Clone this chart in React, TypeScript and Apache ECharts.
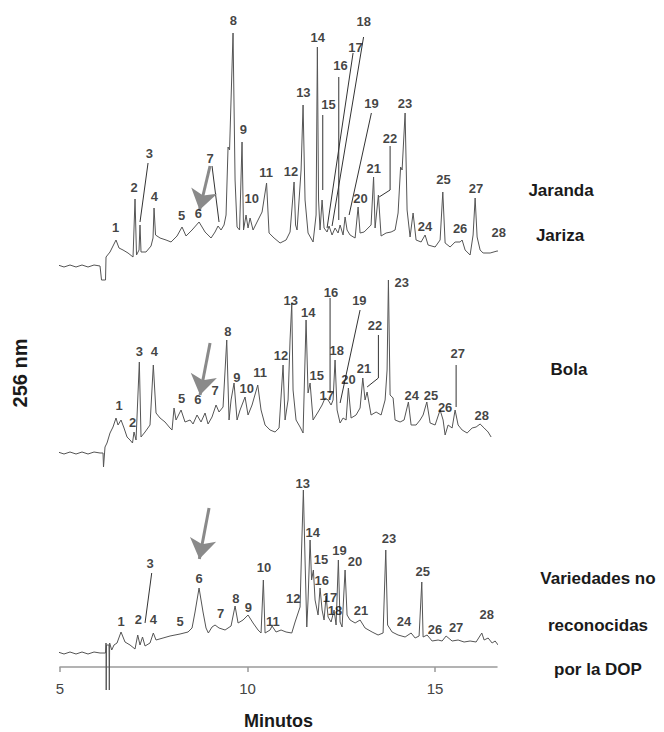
import React, { useEffect, useRef } from "react";
import * as echarts from "echarts";

// Chromatograms: [minutes, signal above pre-injection baseline]
const jarandaTrace: number[][] = [
  [4.787,0],[4.947,1],[5.107,-1],[5.267,1],[5.427,-1],[5.587,1],[5.747,-1],[5.907,1],[6.067,0],
  [6.107,-14],[6.213,-14],[6.227,9],[6.333,14],[6.413,20],[6.493,26],[6.573,18],[6.68,16],[6.813,13],[6.947,9],[7.0,67],[7.04,11],[7.107,16],[7.133,41],[7.16,14],[7.293,14],[7.427,20],[7.48,28],[7.507,58],[7.547,31],[7.667,28],[7.827,26],[7.96,24],[8.12,30],[8.253,39],[8.36,30],[8.52,36],[8.707,44],[8.867,34],[9.027,28],[9.133,34],[9.213,40],[9.293,36],[9.373,41],[9.427,51],[9.48,119],[9.52,116],[9.613,233],[9.667,86],[9.72,39],[9.787,36],[9.853,124],[9.893,36],[9.96,51],[10.013,38],[10.067,48],[10.147,36],[10.28,46],[10.387,54],[10.507,83],[10.573,33],[10.707,28],[10.867,23],[11.027,26],[11.133,34],[11.24,84],[11.28,41],[11.32,36],[11.427,96],[11.48,161],[11.533,66],[11.613,33],[11.747,24],[11.827,51],[11.861,219],[11.893,66],[11.933,36],[11.987,66],[12.04,38],[12.12,34],[12.173,40],[12.253,31],[12.333,38],[12.413,33],[12.467,41],[12.547,31],[12.6,49],[12.653,36],[12.733,31],[12.867,28],[12.947,59],[13.0,33],[13.107,34],[13.213,38],[13.293,41],[13.36,89],[13.4,38],[13.488,71],[13.56,30],[13.693,33],[13.827,34],[13.933,36],[14.013,53],[14.08,99],[14.12,96],[14.2,153],[14.253,56],[14.333,29],[14.413,53],[14.493,26],[14.627,24],[14.733,31],[14.813,21],[15.0,19],[15.133,26],[15.205,74],[15.267,23],[15.4,19],[15.533,24],[15.667,24],[15.72,26],[15.8,16],[15.933,11],[16.013,31],[16.067,68],[16.12,29],[16.2,16],[16.28,13],[16.467,13],[16.653,15],[16.813,14],[16.92,13],[17.0,10]
];

const bolaTrace: number[][] = [
  [4.787,0],[4.947,1],[5.107,-1],[5.267,1],[5.427,-1],[5.587,1],[5.747,-1],[5.907,1],[6.067,0],[6.147,0],[6.16,-14],[6.173,-14],[6.2,6],[6.253,10],[6.333,20],[6.413,26],[6.493,35],[6.547,28],[6.627,33],[6.707,25],[6.787,16],[6.867,13],[6.933,10],[6.973,21],[7.027,13],[7.115,91],[7.16,16],[7.267,21],[7.4,28],[7.488,88],[7.56,40],[7.667,35],[7.8,31],[7.933,25],[7.987,23],[8.04,45],[8.093,33],[8.227,43],[8.333,31],[8.467,33],[8.547,29],[8.653,38],[8.76,31],[8.867,40],[8.947,29],[9.053,36],[9.16,48],[9.24,41],[9.347,46],[9.445,113],[9.507,33],[9.56,53],[9.64,70],[9.72,33],[9.8,43],[9.933,56],[10.013,38],[10.12,48],[10.272,68],[10.36,43],[10.467,28],[10.6,23],[10.733,21],[10.84,25],[10.947,88],[11.0,33],[11.08,53],[11.133,113],[11.179,150],[11.213,63],[11.293,33],[11.4,26],[11.48,20],[11.56,133],[11.613,60],[11.667,70],[11.747,33],[11.88,41],[11.987,48],[12.067,55],[12.147,53],[12.227,48],[12.28,53],[12.333,93],[12.387,43],[12.467,30],[12.547,35],[12.627,33],[12.688,65],[12.76,35],[12.893,38],[13.0,45],[13.072,75],[13.133,53],[13.187,61],[13.293,38],[13.427,41],[13.56,38],[13.667,53],[13.72,83],[13.755,173],[13.8,58],[13.88,55],[13.933,33],[14.067,31],[14.173,33],[14.288,51],[14.36,28],[14.493,28],[14.6,33],[14.68,38],[14.779,51],[14.867,30],[15.0,28],[15.133,43],[15.213,33],[15.267,18],[15.347,28],[15.453,25],[15.533,43],[15.613,28],[15.72,23],[15.853,20],[15.987,25],[16.093,26],[16.2,29],[16.307,25],[16.413,21],[16.493,16]
];

const noDopTrace: number[][] = [
  [4.787,0],[4.947,1],[5.107,-1],[5.267,1],[5.427,-1],[5.587,1],[5.747,-1],[5.907,1],[6.067,0],[6.173,0],[6.213,0],[6.227,10],[6.232,-37],[6.24,8],[6.307,8],[6.315,-37],[6.323,10],[6.379,3],[6.44,8],[6.52,10],[6.627,21],[6.733,11],[6.867,8],[7.0,4],[7.072,18],[7.133,8],[7.2,16],[7.267,7],[7.4,10],[7.488,20],[7.56,13],[7.747,15],[7.933,17],[8.2,19],[8.413,21],[8.52,25],[8.6,41],[8.707,65],[8.813,41],[8.893,25],[8.955,20],[9.053,26],[9.133,28],[9.24,25],[9.4,23],[9.56,27],[9.667,47],[9.747,30],[9.88,33],[10.013,38],[10.147,30],[10.28,23],[10.36,20],[10.421,73],[10.467,20],[10.6,23],[10.653,27],[10.76,21],[10.893,23],[11.027,21],[11.179,20],[11.267,31],[11.4,46],[11.44,103],[11.488,163],[11.533,93],[11.579,26],[11.613,53],[11.667,113],[11.707,73],[11.755,83],[11.8,53],[11.88,38],[11.933,65],[11.987,43],[12.04,33],[12.093,57],[12.147,36],[12.227,31],[12.307,43],[12.36,28],[12.421,93],[12.467,31],[12.52,26],[12.6,83],[12.653,38],[12.733,33],[12.867,30],[13.0,33],[13.133,25],[13.32,21],[13.48,18],[13.613,20],[13.685,103],[13.733,28],[13.853,21],[14.013,18],[14.2,16],[14.36,20],[14.467,15],[14.573,17],[14.645,71],[14.68,16],[14.787,18],[14.92,12],[15.08,13],[15.187,12],[15.293,17],[15.453,12],[15.613,13],[15.773,11],[15.933,12],[16.093,11],[16.245,20],[16.307,13],[16.413,15],[16.52,10],[16.6,12],[16.68,8]
];

// Peak numbers: [label, minutes, height]
const jarandaPeaks: (string | number)[][] = [
  ["1",6.485,39],["2",6.973,79],["3",7.381,113],["4",7.515,70],["5",8.245,51],["6",8.688,53],["7",9.0,108],["8",9.621,246],["9",9.888,137],["10",10.112,68],["11",10.493,94],["12",11.16,95],["13",11.488,174],["14",11.872,229],["15",12.155,162],["16",12.475,201],["17",12.875,219],["18",13.099,245],["19",13.307,163],["20",13.008,68],["21",13.365,98],["22",13.8,128],["23",14.2,163],["24",14.733,40],["25",15.221,87],["26",15.667,38],["27",16.093,78],["28",16.699,34]
];
const bolaPeaks: (string | number)[][] = [
  ["1",6.573,48],["2",6.939,31],["3",7.115,102],["4",7.515,102],["5",8.245,55],["6",8.672,54],["7",9.133,63],["8",9.472,122],["9",9.712,76],["10",9.979,65],["11",10.333,81],["12",10.893,98],["13",11.152,153],["14",11.621,141],["15",11.845,78],["16",12.227,161],["17",12.112,58],["18",12.379,103],["19",12.981,153],["20",12.688,74],["21",13.107,85],["22",13.4,128],["23",14.112,171],["24",14.379,58],["25",14.893,58],["26",15.267,46],["27",15.605,100],["28",16.245,38]
];
const noDopPeaks: (string | number)[][] = [
  ["1",6.627,32],["2",7.088,34],["3",7.4,90],["4",7.488,34],["5",8.2,32],["6",8.707,75],["7",9.285,40],["8",9.685,55],["9",10.021,46],["10",10.44,86],["11",10.672,32],["12",11.221,55],["13",11.472,170],["14",11.739,121],["15",11.96,94],["16",11.979,73],["17",12.2,56],["18",12.333,43],["19",12.448,103],["20",12.867,92],["21",13.027,43],["23",13.773,115],["24",14.173,32],["25",14.672,82],["26",15.0,24],["27",15.56,26],["28",16.379,39]
];

// Leader lines from labels to peaks: [[minutes, height], ...]
const jarandaLeaders: number[][][] = [
  [[7.347,103],[7.133,44]],
  [[9.053,100],[9.24,44]],
  [[12.005,151],[12.005,76]],
  [[12.432,189],[12.432,46]],
  [[12.813,213],[12.12,38]],
  [[13.093,229],[12.253,40]],
  [[13.301,153],[12.707,51]],
  [[13.8,120],[13.8,76],[13.507,69]]
];
const bolaLeaders: number[][][] = [
  [[12.2,155],[12.2,60]],
  [[13.0,143],[12.467,50]],
  [[13.488,118],[13.488,75],[13.187,66]],
  [[15.56,88],[15.56,46]]
];
const noDopLeaders: number[][][] = [
  [[7.445,80],[7.267,30]]
];

// Arrows pointing at peak 6
const jarandaArrow: number[][] = [[9.0,100],[8.72,56]];
const bolaArrow: number[][] = [[9.0,110],[8.733,58]];
const noDopArrow: number[][] = [[8.973,145],[8.715,94]];

const xTicks = [5, 10, 15];

const FONT = "'Liberation Sans', Arial, sans-serif";

export default function App() {
  const ref = useRef<HTMLDivElement>(null);
  useEffect(() => {
    if (!ref.current) return;
    const chart = echarts.init(ref.current, undefined, { renderer: "svg" });

    const traces = [
      { data: jarandaTrace, peaks: jarandaPeaks, leaders: jarandaLeaders, arrow: jarandaArrow, off: 401 },
      { data: bolaTrace, peaks: bolaPeaks, leaders: bolaLeaders, arrow: bolaArrow, off: 214 },
      { data: noDopTrace, peaks: noDopPeaks, leaders: noDopLeaders, arrow: noDopArrow, off: 14 },
    ];

    const series: any[] = [];
    traces.forEach((tr, i) => {
      series.push({
        type: "line",
        name: "trace" + i,
        data: tr.data.map(([t, s]) => [t, s + tr.off]),
        showSymbol: false,
        symbol: "none",
        clip: false,
        silent: true,
        lineStyle: { color: "#555", width: 1 },
        z: 2,
      });
      series.push({
        type: "lines",
        coordinateSystem: "cartesian2d",
        polyline: true,
        clip: false,
        silent: true,
        data: tr.leaders.map((pts) => ({ coords: pts.map(([t, s]) => [t, s + tr.off]) })),
        lineStyle: { color: "#333", width: 1, opacity: 1 },
        z: 3,
      });
      series.push({
        type: "lines",
        coordinateSystem: "cartesian2d",
        clip: false,
        silent: true,
        symbol: ["none", "arrow"],
        symbolSize: [18, 20],
        data: [{ coords: tr.arrow.map(([t, s]) => [t, s + tr.off]) }],
        lineStyle: { color: "#8a8a8a", width: 3, opacity: 1 },
        z: 4,
      });
      series.push({
        type: "scatter",
        clip: false,
        silent: true,
        symbol: "circle",
        symbolSize: 1,
        itemStyle: { color: "transparent" },
        data: tr.peaks.map(([n, t, s]) => ({ name: String(n), value: [t as number, (s as number) + tr.off] })),
        label: {
          show: true,
          position: "inside",
          formatter: "{b}",
          fontSize: 13,
          fontWeight: "bold",
          color: "#111",
          fontFamily: FONT,
        },
        z: 5,
      });
    });

    const txt = (text: string, x: number, y: number, size: number, rotation = 0) => ({
      type: "text",
      x,
      y,
      rotation,
      silent: true,
      style: {
        text,
        fontSize: size,
        fontWeight: "bold",
        fontFamily: FONT,
        fill: "#1a1a1a",
        align: "center",
        verticalAlign: "middle",
        textAlign: "center",
        textVerticalAlign: "middle",
      },
    });

    chart.setOption({
      animation: false,
      backgroundColor: "#fff",
      textStyle: { fontFamily: FONT },
      grid: { left: 60, right: 167, top: 0, bottom: 65, containLabel: false, outerBoundsMode: "none" },
      xAxis: {
        type: "value",
        min: 5,
        max: 16.65,
        interval: 5,
        splitLine: { show: false },
        axisLine: { lineStyle: { color: "#9a9a9a", width: 1.5 } },
        axisTick: { show: true, length: 5, lineStyle: { color: "#9a9a9a", width: 1.5 }, customValues: xTicks },
        axisLabel: { fontSize: 15, color: "#444", margin: 14, customValues: xTicks, fontFamily: FONT },
        name: "Minutos",
        nameLocation: "middle",
        nameGap: 45,
        nameTextStyle: { fontSize: 18, fontWeight: "bold", color: "#1a1a1a", fontFamily: FONT },
      },
      yAxis: { type: "value", min: 0, max: 667, show: false },
      graphic: [
        txt("256 nm", 20, 373, 20, Math.PI / 2),
        txt("Jaranda", 561, 190, 17),
        txt("Jariza", 560, 235, 17),
        txt("Bola", 569, 369, 17),
        txt("Variedades no", 598, 578, 17),
        txt("reconocidas", 598, 625, 17),
        txt("por la DOP", 598, 669, 17),
      ],
      series,
    });
    return () => chart.dispose();
  }, []);
  return (
    <div
      ref={ref}
      style={{ position: "absolute", left: 0, top: 0, width: 664, height: 732, background: "#fff" }}
    />
  );
}
